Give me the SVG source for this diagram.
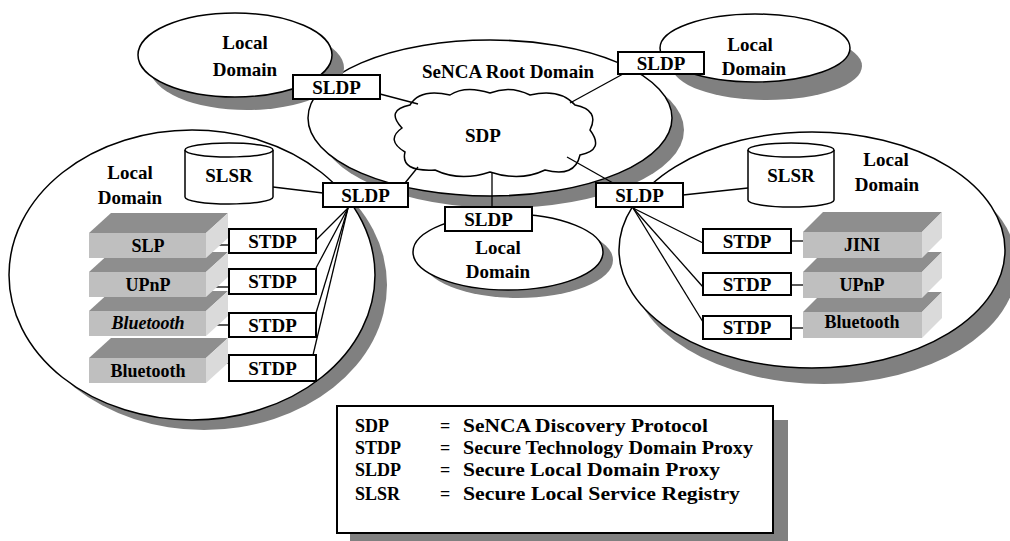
<svg xmlns="http://www.w3.org/2000/svg" width="1010" height="541" viewBox="0 0 1010 541">
<style>
text{font-family:'Liberation Serif', 'Times New Roman', Times, serif;font-weight:bold;fill:#000;text-anchor:middle}
.lbl{font-size:19px}
.stk{font-size:18px}
.leg{font-size:18px;text-anchor:start}
.sh{fill:#808080;stroke:none}
.dom{fill:#fff;stroke:#000;stroke-width:1.5}
.box{fill:#fff;stroke:#000;stroke-width:2}
.cyl{fill:#fff;stroke:#000;stroke-width:1.5}
.ln{stroke:#000;stroke-width:1.3;fill:none}
.top{fill:#8e8e8e}
.front{fill:#bfbfbf}
.side{fill:#dadada}
</style>
<rect width="1010" height="541" fill="#fff"/>

<g id="domain-left">
<ellipse class="sh" cx="204" cy="285" rx="183" ry="145"/>
<ellipse class="dom" cx="192" cy="275" rx="183" ry="145"/>
<text class="lbl" x="130" y="179">Local</text>
<text class="lbl" x="130" y="204">Domain</text>
</g>
<g id="domain-right">
<ellipse class="sh" cx="824" cy="266" rx="193" ry="118"/>
<ellipse class="dom" cx="812" cy="250" rx="193" ry="118"/>
<text class="lbl" x="886" y="166">Local</text>
<text class="lbl" x="887" y="191">Domain</text>
</g>
<g id="root-domain">
<ellipse class="sh" cx="502" cy="130" rx="182" ry="78"/>
<ellipse class="dom" cx="490" cy="118" rx="182" ry="78"/>
<text class="lbl" x="508" y="78">SeNCA Root Domain</text>
</g>
<g id="domain-bottom">
<ellipse class="sh" cx="518" cy="260" rx="95" ry="38"/>
<ellipse class="dom" cx="508" cy="252" rx="95" ry="38"/>
<text class="lbl" x="498" y="254">Local</text>
<text class="lbl" x="498" y="278">Domain</text>
</g>
<g id="domain-topleft">
<ellipse class="sh" cx="247" cy="68" rx="97" ry="42"/>
<ellipse class="dom" cx="235" cy="55" rx="97" ry="42"/>
<text class="lbl" x="245" y="49">Local</text>
<text class="lbl" x="245" y="76">Domain</text>
</g>
<g id="domain-topright">
<ellipse class="sh" cx="767" cy="66" rx="95" ry="34"/>
<ellipse class="dom" cx="755" cy="48" rx="95" ry="34"/>
<text class="lbl" x="750" y="51">Local</text>
<text class="lbl" x="754" y="75">Domain</text>
</g>

<g id="sdp-cloud">
<path class="dom" d="M402 128 Q385 110 410 105 Q420 88 450 95 Q465 85 490 93 Q510 85 530 95 Q560 88 575 105 Q600 110 590 130 Q605 150 580 155 Q575 178 545 170 Q520 182 490 172 Q460 182 435 170 Q400 172 405 152 Q385 140 402 128 Z"/>
<text class="lbl" x="483" y="142">SDP</text>
</g>

<g id="connectors">
<line class="ln" x1="380" y1="94" x2="418" y2="104"/>
<line class="ln" x1="623" y1="74" x2="570" y2="103"/>
<line class="ln" x1="418" y1="167" x2="405" y2="183"/>
<line class="ln" x1="567" y1="157" x2="613" y2="183"/>
<line class="ln" x1="492" y1="172" x2="492" y2="207"/>
<line class="ln" x1="273" y1="187" x2="323" y2="193"/>
<line class="ln" x1="683" y1="195" x2="748" y2="188"/>
<line class="ln" x1="215" y1="245" x2="229" y2="245"/>
<line class="ln" x1="205" y1="287" x2="229" y2="287"/>
<line class="ln" x1="205" y1="325" x2="229" y2="325"/>
<line class="ln" x1="205" y1="363" x2="229" y2="363"/>
<line class="ln" x1="791" y1="241" x2="803" y2="241"/>
<line class="ln" x1="791" y1="285" x2="803" y2="285"/>
<line class="ln" x1="791" y1="328" x2="803" y2="328"/>
<line class="ln" x1="348" y1="208" x2="316" y2="240"/>
<line class="ln" x1="348" y1="208" x2="316" y2="268"/>
<line class="ln" x1="348" y1="208" x2="316" y2="313"/>
<line class="ln" x1="348" y1="208" x2="313" y2="355"/>
<line class="ln" x1="633" y1="208" x2="703" y2="243"/>
<line class="ln" x1="633" y1="208" x2="703" y2="287"/>
<line class="ln" x1="633" y1="208" x2="703" y2="322"/>
</g>

<g id="sldp-topleft"><rect class="box" x="293" y="75" width="87" height="24"/><text class="lbl" x="336.5" y="94">SLDP</text></g>
<g id="sldp-topright"><rect class="box" x="618" y="52" width="86" height="22"/><text class="lbl" x="661" y="70">SLDP</text></g>
<g id="sldp-left"><rect class="box" x="323" y="183" width="85" height="24"/><text class="lbl" x="365.5" y="202">SLDP</text></g>
<g id="sldp-bottom"><rect class="box" x="445" y="207" width="87" height="24"/><text class="lbl" x="488.5" y="226">SLDP</text></g>
<g id="sldp-right"><rect class="box" x="596" y="183" width="87" height="24"/><text class="lbl" x="639.5" y="202">SLDP</text></g>

<g id="slsr-left">
<path class="cyl" d="M185 150 L185 197 A44 7 0 0 0 273 197 L273 150"/>
<ellipse class="cyl" cx="229" cy="150" rx="44" ry="7"/>
<text class="lbl" x="229" y="182">SLSR</text>
</g>
<g id="slsr-right">
<path class="cyl" d="M748 150 L748 200 A43 7 0 0 0 834 200 L834 150"/>
<ellipse class="cyl" cx="791" cy="150" rx="43" ry="7"/>
<text class="lbl" x="791" y="182">SLSR</text>
</g>

<g id="stdp-l1"><rect class="box" x="229" y="229" width="87" height="24"/><text class="lbl" x="272.5" y="248">STDP</text></g>
<g id="stdp-l2"><rect class="box" x="229" y="269" width="87" height="25"/><text class="lbl" x="272.5" y="288">STDP</text></g>
<g id="stdp-l3"><rect class="box" x="229" y="313" width="87" height="24"/><text class="lbl" x="272.5" y="332">STDP</text></g>
<g id="stdp-l4"><rect class="box" x="229" y="355" width="87" height="26"/><text class="lbl" x="272.5" y="375">STDP</text></g>
<g id="stdp-r1"><rect class="box" x="703" y="229" width="88" height="24"/><text class="lbl" x="747" y="248">STDP</text></g>
<g id="stdp-r2"><rect class="box" x="703" y="273" width="88" height="22"/><text class="lbl" x="747" y="291">STDP</text></g>
<g id="stdp-r3"><rect class="box" x="703" y="316" width="88" height="23"/><text class="lbl" x="747" y="334">STDP</text></g>

<g id="stack-bluetooth-l4">
<polygon class="top" points="89,358 111,338 228,338 206,358"/>
<polygon class="side" points="206,358 228,338 228,363 206,383"/>
<rect class="front" x="89" y="358" width="117" height="25"/>
<text class="stk" x="148" y="377">Bluetooth</text>
</g>
<g id="stack-bluetooth-l3">
<polygon class="top" points="89,311 111,291 228,291 206,311"/>
<polygon class="side" points="206,311 228,291 228,316 206,336"/>
<rect class="front" x="89" y="311" width="117" height="25"/>
<text class="stk" x="148" y="329" font-style="italic">Bluetooth</text>
</g>
<g id="stack-upnp-l">
<polygon class="top" points="89,272 111,252 228,252 206,272"/>
<polygon class="side" points="206,272 228,252 228,277 206,297"/>
<rect class="front" x="89" y="272" width="117" height="25"/>
<text class="stk" x="148" y="291">UPnP</text>
</g>
<g id="stack-slp-l">
<polygon class="top" points="89,233 111,213 228,213 206,233"/>
<polygon class="side" points="206,233 228,213 228,238 206,258"/>
<rect class="front" x="89" y="233" width="117" height="25"/>
<text class="stk" x="148" y="252">SLP</text>
</g>

<g id="stack-bluetooth-r">
<polygon class="top" points="803,312 823,292 942,292 922,312"/>
<polygon class="side" points="922,312 942,292 942,318 922,338"/>
<rect class="front" x="803" y="312" width="119" height="26"/>
<text class="stk" x="862" y="328">Bluetooth</text>
</g>
<g id="stack-upnp-r">
<polygon class="top" points="803,272 823,252 942,252 922,272"/>
<polygon class="side" points="922,272 942,252 942,278 922,298"/>
<rect class="front" x="803" y="272" width="119" height="26"/>
<text class="stk" x="862" y="291">UPnP</text>
</g>
<g id="stack-jini-r">
<polygon class="top" points="803,232 823,212 942,212 922,232"/>
<polygon class="side" points="922,232 942,212 942,238 922,258"/>
<rect class="front" x="803" y="232" width="119" height="26"/>
<text class="stk" x="862" y="251">JINI</text>
</g>

<g id="legend">
<rect class="sh" x="773" y="420" width="15" height="121"/>
<rect class="sh" x="350" y="533" width="438" height="8"/>
<rect x="337" y="406" width="436" height="127" fill="#fff" stroke="#000" stroke-width="2"/>
<text class="leg" x="355" y="432">SDP</text>
<text class="leg" x="440" y="432">=</text>
<text class="leg" x="463" y="432" textLength="245" lengthAdjust="spacingAndGlyphs">SeNCA Discovery Protocol</text>
<text class="leg" x="355" y="454">STDP</text>
<text class="leg" x="440" y="454">=</text>
<text class="leg" x="463" y="454" textLength="290" lengthAdjust="spacingAndGlyphs">Secure Technology Domain Proxy</text>
<text class="leg" x="355" y="476">SLDP</text>
<text class="leg" x="440" y="476">=</text>
<text class="leg" x="463" y="476" textLength="257" lengthAdjust="spacingAndGlyphs">Secure Local Domain Proxy</text>
<text class="leg" x="355" y="500">SLSR</text>
<text class="leg" x="440" y="500">=</text>
<text class="leg" x="463" y="500" textLength="277" lengthAdjust="spacingAndGlyphs">Secure Local Service Registry</text>
</g>
</svg>
